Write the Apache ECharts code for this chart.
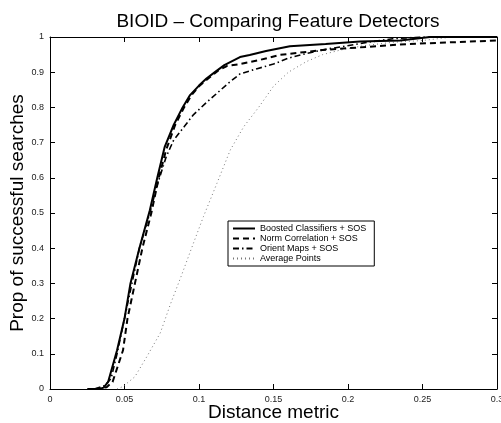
<!DOCTYPE html>
<html><head><meta charset="utf-8">
<script src="https://cdn.jsdelivr.net/npm/echarts@6/dist/echarts.min.js"></script>
<style>html,body{margin:0;padding:0;background:#fff}#c{width:501px;height:423px}</style>
</head><body><div id="c"></div>
<script>
const seriesNames = ['Boosted Classifiers + SOS','Norm Correlation + SOS','Orient Maps + SOS','Average Points'];
const xTicks = [0,0.05,0.1,0.15,0.2,0.25,0.3];
const yTicks = [0,0.1,0.2,0.3,0.4,0.5,0.6,0.7,0.8,0.9,1];

const boostedX = [0.025,0.033,0.036,0.039,0.045,0.050,0.054,0.060,0.067,0.072,0.077,0.083,0.089,0.094,0.100,0.105,0.110,0.117,0.1275,0.134,0.145,0.161,0.185,0.208,0.235,0.255,0.3];
const boostedY = [0,0,0.004,0.02,0.11,0.2,0.3,0.4,0.508,0.6,0.688,0.75,0.80,0.835,0.862,0.882,0.898,0.92,0.943,0.949,0.96,0.974,0.98,0.987,0.99,1.0,1.0];

const normX = [0.03,0.038,0.042,0.049,0.052,0.057,0.062,0.068,0.073,0.078,0.084,0.090,0.095,0.100,0.107,0.113,0.119,0.1275,0.141,0.154,0.183,0.213,0.24,0.3];
const normY = [0,0.005,0.02,0.11,0.2,0.3,0.4,0.5,0.6,0.68,0.75,0.80,0.835,0.86,0.885,0.905,0.918,0.923,0.935,0.949,0.963,0.972,0.98,0.99];

const orientX = [0.03,0.037,0.041,0.045,0.050,0.055,0.060,0.067,0.072,0.078,0.083,0.090,0.096,0.104,0.112,0.120,0.1275,0.139,0.150,0.160,0.172,0.185,0.195,0.213,0.23,0.25,0.3];
const orientY = [0,0.01,0.03,0.1,0.2,0.3,0.4,0.5,0.58,0.66,0.707,0.745,0.778,0.81,0.84,0.87,0.895,0.91,0.923,0.94,0.953,0.965,0.972,0.985,0.995,1.0,1.0];

const avgX = [0.045,0.049,0.057,0.065,0.074,0.081,0.088,0.095,0.103,0.112,0.121,0.130,0.140,0.150,0.160,0.172,0.183,0.195,0.21,0.23,0.25,0.27,0.3];
const avgY = [0,0.007,0.035,0.092,0.159,0.243,0.32,0.4,0.49,0.584,0.679,0.745,0.80,0.86,0.90,0.93,0.95,0.963,0.975,0.985,0.99,1.0,1.0];

function pairs(xs, ys){ return xs.map((x,i)=>[x, ys[i]]); }

const font = 'Liberation Sans, Arial, Helvetica, sans-serif';
const chart = echarts.init(document.getElementById('c'), null, {renderer:'canvas'});
const lineStyles = [
  {color:'#000', width:2, type:'solid'},
  {color:'#000', width:2, type:[6,4]},
  {color:'#000', width:1.6, type:[6,3,1.5,3]},
  {color:'#777', width:1, type:[1,3]}
];
const datas = [pairs(boostedX,boostedY), pairs(normX,normY), pairs(orientX,orientY), pairs(avgX,avgY)];

function frameAxis(extra){
  return Object.assign({
    axisLine:{show:true, onZero:false, lineStyle:{color:'#000', width:1}},
    axisTick:{show:true, inside:true, length:5, lineStyle:{color:'#000'}},
    splitLine:{show:false}
  }, extra);
}

chart.setOption({
  animation:false,
  title:{text:'BIOID – Comparing Feature Detectors', left:273, textAlign:'center', top:7,
    textStyle:{fontFamily:font, fontSize:19, fontWeight:'normal', color:'#000'}},
  grid:{left:50, right:4, top:37, bottom:34, containLabel:false, outerBoundsMode:'none'},
  legend:{
    orient:'vertical', left:228, top:221, itemWidth:22, itemHeight:10, itemGap:1,
    borderColor:'#000', borderWidth:1, borderRadius:0, padding:[3,8,3,4],
    itemStyle:{opacity:0},
    textStyle:{fontFamily:font, fontSize:9, color:'#000'},
    data:seriesNames
  },
  xAxis:[
    frameAxis({type:'value', min:0, max:0.3, interval:0.05, position:'bottom',
      axisLabel:{fontFamily:font, fontSize:9, color:'#222', margin:6, showMaxLabel:true},
      name:'Distance metric', nameLocation:'middle', nameGap:14, nameMoveOverlap:false,
      nameTextStyle:{fontFamily:font, fontSize:19, color:'#000'}}),
    frameAxis({type:'value', min:0, max:0.3, interval:0.05, position:'top', axisLabel:{show:false}})
  ],
  yAxis:[
    frameAxis({type:'value', min:0, max:1, interval:0.1, position:'left',
      axisLabel:{fontFamily:font, fontSize:9, color:'#222', margin:6,
        formatter:v=>String(Math.round(v*10)/10)},
      name:'Prop of successful searches', nameLocation:'middle', nameGap:23, nameMoveOverlap:false,
      nameTextStyle:{fontFamily:font, fontSize:19, color:'#000'}}),
    frameAxis({type:'value', min:0, max:1, interval:0.1, position:'right', axisLabel:{show:false}})
  ],
  series:seriesNames.map((n,i)=>({
    name:n, type:'line', data:datas[i], showSymbol:false, symbol:'none', smooth:false,
    lineStyle:lineStyles[i], itemStyle:{color:lineStyles[i].color}, z:10-i
  }))
});
</script></body></html>
